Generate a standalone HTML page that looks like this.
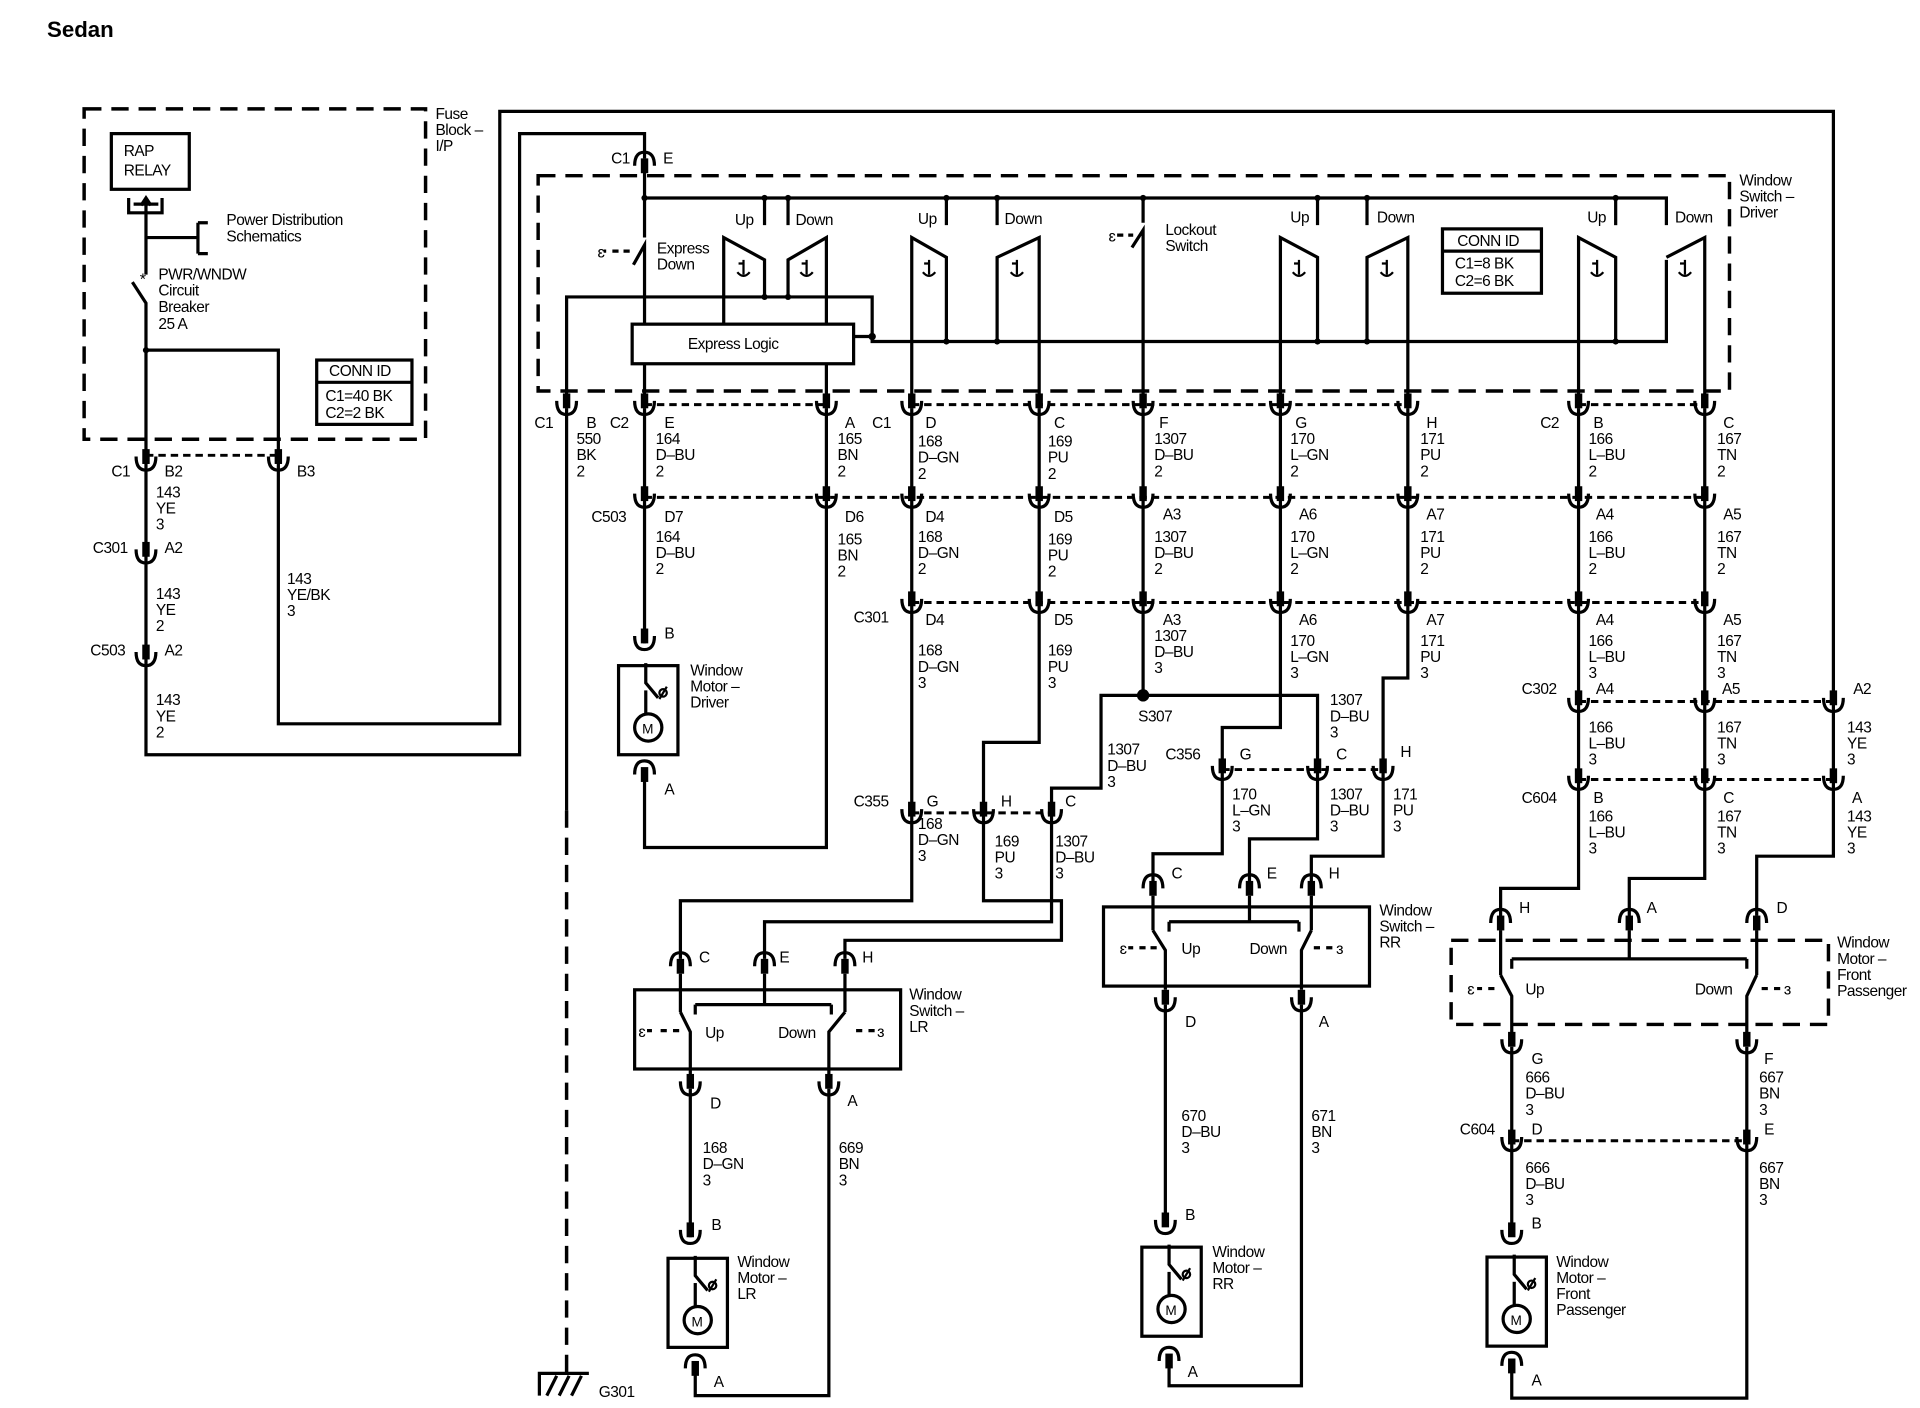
<!DOCTYPE html>
<html><head><meta charset="utf-8"><style>
html,body{margin:0;padding:0;background:#fff}
svg{display:block}
text{font-family:"Liberation Sans",sans-serif;font-size:12.5px;fill:#000;letter-spacing:-0.4px}
.w{stroke:#000;stroke-width:2.6;fill:none}
.d{stroke:#000;stroke-width:2.8;fill:none;stroke-dasharray:14 8}
.o{stroke:#000;stroke-width:2.4;fill:none;stroke-dasharray:6 4}
.t{stroke:#000;stroke-width:1.8;fill:none}
</style></head><body>
<svg width="1920" height="1408" viewBox="0 0 1552 1138" preserveAspectRatio="none" xmlns="http://www.w3.org/2000/svg">
<defs>
<g id="cn"><rect x="-3" y="-12" width="6" height="12" fill="#000"/><path d="M-8,-6 Q-8,5 0,5 Q8,5 8,-6" class="w" stroke-width="2.2"/></g>
<g id="cu"><rect x="-3" y="0" width="6" height="12" fill="#000"/><path d="M-8,6 Q-8,-5 0,-5 Q8,-5 8,6" class="w" stroke-width="2.2"/></g>
<g id="mot"><rect x="-22" y="0" width="48" height="72" class="w"/><circle cx="2" cy="50" r="11" class="w" stroke-width="2"/><text x="-3" y="55" style="font-size:11px">M</text><path d="M0,-2 V14 L10,26" class="w" stroke-width="2"/><circle cx="14" cy="22" r="3" class="t" stroke-width="1.4"/><path d="M11,27 L17,17" class="t" stroke-width="1.2"/><path d="M0,20 V39" class="w" stroke-width="2"/></g>
<g id="gnd"><path d="M0,-4 v12 M0,-1 h-4 M-4,-1 l0,0" class="t" stroke-width="1.4"/><path d="M-5,6 q5,6 10,0" class="t" stroke-width="1.4"/></g>
</defs>

<text x="38" y="30" style="font-size:18px;font-weight:bold;letter-spacing:0">Sedan</text>

<!-- Fuse block -->
<rect x="68" y="88" width="276" height="267" class="d"/>
<text x="352" y="96">Fuse</text><text x="352" y="109">Block –</text><text x="352" y="122">I/P</text>
<rect x="90" y="108" width="63" height="45" class="w"/>
<text x="100" y="126">RAP</text><text x="100" y="142">RELAY</text>
<path d="M104,160 V172 H131 V160 M108,165 H128" class="w" stroke-width="2"/>
<path d="M118,160 V222" class="w"/><path d="M114,166 L118,160 L122,166" class="w" stroke-width="1.6"/>
<path d="M118,192 H160 M160,180 V205 M160,180 H168 M160,205 H168" class="w"/>
<text x="183" y="182">Power Distribution</text><text x="183" y="195">Schematics</text>
<text x="113" y="230" style="font-size:13px">*</text>
<path d="M107,228 L118,245 V375" class="w"/>
<text x="128" y="226">PWR/WNDW</text><text x="128" y="239">Circuit</text><text x="128" y="252">Breaker</text><text x="128" y="266">25 A</text>
<path d="M118,283 H225 V375" class="w"/>
<circle cx="118" cy="283" r="2.5"/>
<rect x="256" y="291" width="77" height="52" class="w"/><path d="M256,309 H333" class="w"/>
<text x="266" y="304">CONN ID</text><text x="263" y="324">C1=40 BK</text><text x="263" y="338">C2=2 BK</text>

<!-- left power column -->
<path d="M118,375 V610 H420 V108 H521 V128" class="w"/>
<path d="M225,375 V585 H404 V90 H1482 V692 H1420 V740" class="w"/>
<path d="M118,368 H225" class="o"/>
<use href="#cn" x="118" y="375"/><use href="#cn" x="225" y="375"/>
<text x="90" y="385">C1</text><text x="133" y="385">B2</text><text x="240" y="385">B3</text>
<text x="126" y="402">143</text><text x="126" y="415">YE</text><text x="126" y="428">3</text>
<use href="#cn" x="118" y="450"/><text x="75" y="447">C301</text><text x="133" y="447">A2</text>
<text x="126" y="484">143</text><text x="126" y="497">YE</text><text x="126" y="510">2</text>
<text x="232" y="472">143</text><text x="232" y="485">YE/BK</text><text x="232" y="498">3</text>
<use href="#cn" x="118" y="533"/><text x="73" y="530">C503</text><text x="133" y="530">A2</text>
<text x="126" y="570">143</text><text x="126" y="583">YE</text><text x="126" y="596">2</text>

<!-- Driver switch -->
<rect x="435" y="142" width="963" height="174" class="d"/>
<text x="1406" y="150">Window</text><text x="1406" y="163">Switch –</text><text x="1406" y="176">Driver</text>
<use href="#cu" x="521" y="128"/><text x="494" y="132">C1</text><text x="536" y="132">E</text>
<path d="M521,128 V192 M512,214 L521,198 V262" class="w"/>
<path d="M490,203 h-2 M495,203 h5 M504,203 h5" class="w" stroke-width="2"/><text x="483" y="208" style="font-size:13px">ɛ</text>
<text x="531" y="205">Express</text><text x="531" y="218">Down</text>
<path d="M521,160 H1347 V182" class="w"/>
<!-- express logic -->
<rect x="511" y="262" width="179" height="32" class="w"/>
<text x="556" y="282">Express Logic</text>
<path d="M458,330 V240 H705 V272 M705,272 H690 M705,272 V276 H1347 V210" class="w"/>
<circle cx="705" cy="272" r="3"/>
<path d="M521,294 V330 M668,294 V330" class="w"/>

<!-- switch pair 1 -->
<path d="M618,160 V182 M637,160 V182" class="w"/>
<path d="M585,262 V192 L618,210 V240 M668,262 V192 L637,210 V240" class="w"/>
<text x="594" y="182">Up</text><text x="643" y="182">Down</text>
<!-- pair 2 -->
<path d="M765,160 V182 M806,160 V182" class="w"/>
<path d="M737,330 V192 L765,208 V276 M840,330 V192 L806,208 V276" class="w"/>
<text x="742" y="181">Up</text><text x="812" y="181">Down</text>
<!-- lockout -->
<path d="M924,160 V180 M915,200 L924,186 V330" class="w"/>
<path d="M903,190 h5 M912,190 h4" class="w" stroke-width="2"/><text x="896" y="195" style="font-size:13px">ɛ</text>
<text x="942" y="190">Lockout</text><text x="942" y="203">Switch</text>
<!-- pair 3 -->
<path d="M1065,160 V182 M1105,160 V182" class="w"/>
<path d="M1035,330 V192 L1065,208 V276 M1138,330 V192 L1105,208 V276" class="w"/>
<text x="1043" y="180">Up</text><text x="1113" y="180">Down</text>
<rect x="1166" y="185" width="80" height="52" class="w"/><path d="M1166,203 H1246" class="w"/>
<text x="1178" y="199">CONN ID</text><text x="1176" y="217">C1=8 BK</text><text x="1176" y="231">C2=6 BK</text>
<!-- pair 4 -->
<path d="M1306,160 V182" class="w"/>
<path d="M1276,330 V192 L1306,208 V276 M1378,330 V192 L1347,208" class="w"/>
<text x="1283" y="180">Up</text><text x="1354" y="180">Down</text>
<!-- grounds inside switches -->
<use href="#gnd" x="601" y="214"/><use href="#gnd" x="652" y="214"/>
<use href="#gnd" x="751" y="214"/><use href="#gnd" x="822" y="214"/>
<use href="#gnd" x="1050" y="214"/><use href="#gnd" x="1121" y="214"/>
<use href="#gnd" x="1291" y="214"/><use href="#gnd" x="1362" y="214"/>
<circle cx="521" cy="160" r="2.5"/><circle cx="618" cy="160" r="2.5"/><circle cx="637" cy="160" r="2.5"/><circle cx="765" cy="160" r="2.5"/><circle cx="806" cy="160" r="2.5"/><circle cx="924" cy="160" r="2.5"/><circle cx="1065" cy="160" r="2.5"/><circle cx="1105" cy="160" r="2.5"/><circle cx="1306" cy="160" r="2.5"/>
<circle cx="618" cy="240" r="2.5"/><circle cx="637" cy="240" r="2.5"/><circle cx="765" cy="276" r="2.5"/><circle cx="806" cy="276" r="2.5"/><circle cx="1065" cy="276" r="2.5"/><circle cx="1105" cy="276" r="2.5"/><circle cx="1306" cy="276" r="2.5"/>

<!-- row 1 connectors y=330 -->
<path d="M521,327 H668 M737,327 H1138 M1276,327 H1378" class="o"/>
<use href="#cn" x="458" y="330"/><use href="#cn" x="521" y="330"/><use href="#cn" x="668" y="330"/><use href="#cn" x="737" y="330"/><use href="#cn" x="840" y="330"/><use href="#cn" x="924" y="330"/><use href="#cn" x="1035" y="330"/><use href="#cn" x="1138" y="330"/><use href="#cn" x="1276" y="330"/><use href="#cn" x="1378" y="330"/>
<text x="432" y="346">C1</text><text x="474" y="346">B</text><text x="466" y="359">550</text><text x="466" y="372">BK</text><text x="466" y="385">2</text>
<text x="493" y="346">C2</text><text x="537" y="346">E</text><text x="530" y="359">164</text><text x="530" y="372">D–BU</text><text x="530" y="385">2</text>
<text x="683" y="346">A</text><text x="677" y="359">165</text><text x="677" y="372">BN</text><text x="677" y="385">2</text>
<text x="705" y="346">C1</text><text x="748" y="346">D</text><text x="742" y="361">168</text><text x="742" y="374">D–GN</text><text x="742" y="387">2</text>
<text x="852" y="346">C</text><text x="847" y="361">169</text><text x="847" y="374">PU</text><text x="847" y="387">2</text>
<text x="937" y="346">F</text><text x="933" y="359">1307</text><text x="933" y="372">D–BU</text><text x="933" y="385">2</text>
<text x="1047" y="346">G</text><text x="1043" y="359">170</text><text x="1043" y="372">L–GN</text><text x="1043" y="385">2</text>
<text x="1153" y="346">H</text><text x="1148" y="359">171</text><text x="1148" y="372">PU</text><text x="1148" y="385">2</text>
<text x="1245" y="346">C2</text><text x="1288" y="346">B</text><text x="1284" y="359">166</text><text x="1284" y="372">L–BU</text><text x="1284" y="385">2</text>
<text x="1393" y="346">C</text><text x="1388" y="359">167</text><text x="1388" y="372">TN</text><text x="1388" y="385">2</text>

<!-- vertical wires -->
<path d="M458,330 V655" class="w"/>
<path d="M458,655 V1110" class="d"/>
<path d="M436,1128 V1110 H476 M442,1128 l8,-16 M452,1128 l8,-16 M462,1128 l8,-16" class="w" stroke-width="2"/>
<text x="484" y="1129">G301</text>
<path d="M521,330 V520" class="w"/>
<path d="M668,330 V685 H521 V625" class="w"/>
<path d="M737,330 V728 H550 V775" class="w"/>
<path d="M840,330 V600 H795 V728 H858 V760 H683 V775" class="w"/>
<path d="M924,330 V562 H890 V637 H850 V745 H618 V775" class="w"/>
<path d="M924,562 H1065 V678 H1010 V718" class="w"/>
<circle cx="924" cy="562" r="5"/>
<text x="920" y="583">S307</text>
<path d="M1035,330 V588 H988 V690 H932 V718" class="w"/>
<path d="M1138,330 V548 H1118 V692 H1060 V718" class="w"/>
<path d="M1276,330 V718 H1213 V745" class="w"/>
<path d="M1378,330 V710 H1317 V745" class="w"/>

<!-- row 2 C503 y=405 -->
<path d="M521,402 H1378" class="o"/>
<use href="#cn" x="521" y="405"/><use href="#cn" x="668" y="405"/><use href="#cn" x="737" y="405"/><use href="#cn" x="840" y="405"/><use href="#cn" x="924" y="405"/><use href="#cn" x="1035" y="405"/><use href="#cn" x="1138" y="405"/><use href="#cn" x="1276" y="405"/><use href="#cn" x="1378" y="405"/>
<text x="478" y="422">C503</text>
<text x="537" y="422">D7</text><text x="530" y="438">164</text><text x="530" y="451">D–BU</text><text x="530" y="464">2</text>
<text x="683" y="422">D6</text><text x="677" y="440">165</text><text x="677" y="453">BN</text><text x="677" y="466">2</text>
<text x="748" y="422">D4</text><text x="742" y="438">168</text><text x="742" y="451">D–GN</text><text x="742" y="464">2</text>
<text x="852" y="422">D5</text><text x="847" y="440">169</text><text x="847" y="453">PU</text><text x="847" y="466">2</text>
<text x="940" y="420">A3</text><text x="933" y="438">1307</text><text x="933" y="451">D–BU</text><text x="933" y="464">2</text>
<text x="1050" y="420">A6</text><text x="1043" y="438">170</text><text x="1043" y="451">L–GN</text><text x="1043" y="464">2</text>
<text x="1153" y="420">A7</text><text x="1148" y="438">171</text><text x="1148" y="451">PU</text><text x="1148" y="464">2</text>
<text x="1290" y="420">A4</text><text x="1284" y="438">166</text><text x="1284" y="451">L–BU</text><text x="1284" y="464">2</text>
<text x="1393" y="420">A5</text><text x="1388" y="438">167</text><text x="1388" y="451">TN</text><text x="1388" y="464">2</text>

<!-- row 3 C301 y=490 -->
<path d="M737,487 H1378" class="o"/>
<use href="#cn" x="737" y="490"/><use href="#cn" x="840" y="490"/><use href="#cn" x="924" y="490"/><use href="#cn" x="1035" y="490"/><use href="#cn" x="1138" y="490"/><use href="#cn" x="1276" y="490"/><use href="#cn" x="1378" y="490"/>
<text x="690" y="503">C301</text>
<text x="748" y="505">D4</text><text x="742" y="530">168</text><text x="742" y="543">D–GN</text><text x="742" y="556">3</text>
<text x="852" y="505">D5</text><text x="847" y="530">169</text><text x="847" y="543">PU</text><text x="847" y="556">3</text>
<text x="940" y="505">A3</text><text x="933" y="518">1307</text><text x="933" y="531">D–BU</text><text x="933" y="544">3</text>
<text x="1050" y="505">A6</text><text x="1043" y="522">170</text><text x="1043" y="535">L–GN</text><text x="1043" y="548">3</text>
<text x="1153" y="505">A7</text><text x="1148" y="522">171</text><text x="1148" y="535">PU</text><text x="1148" y="548">3</text>
<text x="1290" y="505">A4</text><text x="1284" y="522">166</text><text x="1284" y="535">L–BU</text><text x="1284" y="548">3</text>
<text x="1393" y="505">A5</text><text x="1388" y="522">167</text><text x="1388" y="535">TN</text><text x="1388" y="548">3</text>

<!-- Driver motor -->
<use href="#cn" x="521" y="520"/><text x="537" y="516">B</text>
<use href="#mot" x="522" y="538"/>
<use href="#cu" x="521" y="620"/><text x="537" y="642">A</text>
<text x="558" y="546">Window</text><text x="558" y="559">Motor –</text><text x="558" y="572">Driver</text>

<!-- 1307 / S307 labels -->
<text x="895" y="610">1307</text><text x="895" y="623">D–BU</text><text x="895" y="636">3</text>
<text x="1075" y="570">1307</text><text x="1075" y="583">D–BU</text><text x="1075" y="596">3</text>

<!-- C355 -->
<path d="M737,657 H850" class="o"/>
<use href="#cn" x="737" y="660"/><use href="#cn" x="795" y="660"/><use href="#cn" x="850" y="660"/>
<text x="690" y="652">C355</text><text x="749" y="652">G</text><text x="809" y="652">H</text><text x="861" y="652">C</text>
<text x="742" y="670">168</text><text x="742" y="683">D–GN</text><text x="742" y="696">3</text>
<text x="804" y="684">169</text><text x="804" y="697">PU</text><text x="804" y="710">3</text>
<text x="853" y="684">1307</text><text x="853" y="697">D–BU</text><text x="853" y="710">3</text>

<!-- C356 -->
<path d="M988,622 H1118" class="o"/>
<use href="#cn" x="988" y="625"/><use href="#cn" x="1065" y="625"/><use href="#cn" x="1118" y="625"/>
<text x="942" y="614">C356</text><text x="1002" y="614">G</text><text x="1080" y="614">C</text><text x="1132" y="612">H</text>
<text x="996" y="646">170</text><text x="996" y="659">L–GN</text><text x="996" y="672">3</text>
<text x="1075" y="646">1307</text><text x="1075" y="659">D–BU</text><text x="1075" y="672">3</text>
<text x="1126" y="646">171</text><text x="1126" y="659">PU</text><text x="1126" y="672">3</text>

<!-- Window Switch LR -->
<use href="#cu" x="550" y="775"/><use href="#cu" x="618" y="775"/><use href="#cu" x="683" y="775"/>
<text x="565" y="778">C</text><text x="630" y="778">E</text><text x="697" y="778">H</text>
<rect x="513" y="800" width="215" height="64" class="w"/>
<text x="735" y="808">Window</text><text x="735" y="821">Switch –</text><text x="735" y="834">LR</text>
<path d="M550,787 V818 M550,818 L558,834 V868 M683,787 V818 M683,818 L670,834 V868" class="w"/>
<path d="M618,787 V812 M562,812 H672 M562,812 V820 M672,812 V820" class="w" stroke-width="2"/>
<path d="M523,833 h4 M534,833 h5 M544,833 h5 M692,833 h5 M702,833 h5" class="w" stroke-width="2"/>
<text x="516" y="838" style="font-size:13px">ɛ</text><text x="709" y="838" style="font-size:13px">ɜ</text>
<text x="570" y="839">Up</text><text x="629" y="839">Down</text>
<use href="#cn" x="558" y="880"/><use href="#cn" x="670" y="880"/>
<text x="574" y="896">D</text><text x="685" y="894">A</text>
<path d="M558,880 V1000 M670,880 V1128 H562 V1105" class="w"/>
<text x="568" y="932">168</text><text x="568" y="945">D–GN</text><text x="568" y="958">3</text>
<text x="678" y="932">669</text><text x="678" y="945">BN</text><text x="678" y="958">3</text>
<use href="#cn" x="558" y="1000"/><text x="575" y="994">B</text>
<use href="#mot" x="562" y="1017"/>
<use href="#cu" x="562" y="1100"/><text x="577" y="1121">A</text>
<text x="596" y="1024">Window</text><text x="596" y="1037">Motor –</text><text x="596" y="1050">LR</text>

<!-- Window Switch RR -->
<use href="#cu" x="932" y="712"/><use href="#cu" x="1010" y="712"/><use href="#cu" x="1060" y="712"/>
<text x="947" y="710">C</text><text x="1024" y="710">E</text><text x="1074" y="710">H</text>
<rect x="892" y="733" width="215" height="64" class="w"/>
<text x="1115" y="740">Window</text><text x="1115" y="753">Switch –</text><text x="1115" y="766">RR</text>
<path d="M932,724 V752 M932,752 L942,768 V800 M1060,724 V752 M1060,752 L1052,768 V800" class="w"/>
<path d="M1010,724 V745 M945,745 H1050 M945,745 V753 M1050,745 V753" class="w" stroke-width="2"/>
<path d="M912,766 h4 M921,766 h5 M930,766 h5 M1062,766 h5 M1072,766 h5" class="w" stroke-width="2"/>
<text x="905" y="771" style="font-size:13px">ɛ</text><text x="1080" y="771" style="font-size:13px">ɜ</text>
<text x="955" y="771">Up</text><text x="1010" y="771">Down</text>
<use href="#cn" x="942" y="812"/><use href="#cn" x="1052" y="812"/>
<text x="958" y="830">D</text><text x="1066" y="830">A</text>
<path d="M942,812 V990 M1052,812 V1120 H945 V1105" class="w"/>
<text x="955" y="906">670</text><text x="955" y="919">D–BU</text><text x="955" y="932">3</text>
<text x="1060" y="906">671</text><text x="1060" y="919">BN</text><text x="1060" y="932">3</text>
<use href="#cn" x="942" y="992"/><text x="958" y="986">B</text>
<use href="#mot" x="945" y="1008"/>
<use href="#cu" x="945" y="1094"/><text x="960" y="1113">A</text>
<text x="980" y="1016">Window</text><text x="980" y="1029">Motor –</text><text x="980" y="1042">RR</text>

<!-- Right column C302 / C604 -->
<path d="M1276,567 H1482" class="o"/>
<use href="#cn" x="1276" y="570"/><use href="#cn" x="1378" y="570"/><use href="#cn" x="1482" y="570"/>
<text x="1230" y="561">C302</text><text x="1290" y="561">A4</text><text x="1392" y="561">A5</text><text x="1498" y="561">A2</text>
<text x="1284" y="592">166</text><text x="1284" y="605">L–BU</text><text x="1284" y="618">3</text>
<text x="1388" y="592">167</text><text x="1388" y="605">TN</text><text x="1388" y="618">3</text>
<text x="1493" y="592">143</text><text x="1493" y="605">YE</text><text x="1493" y="618">3</text>
<path d="M1276,630 H1482" class="o"/>
<use href="#cn" x="1276" y="633"/><use href="#cn" x="1378" y="633"/><use href="#cn" x="1482" y="633"/>
<text x="1230" y="649">C604</text><text x="1288" y="649">B</text><text x="1393" y="649">C</text><text x="1497" y="649">A</text>
<text x="1284" y="664">166</text><text x="1284" y="677">L–BU</text><text x="1284" y="690">3</text>
<text x="1388" y="664">167</text><text x="1388" y="677">TN</text><text x="1388" y="690">3</text>
<text x="1493" y="664">143</text><text x="1493" y="677">YE</text><text x="1493" y="690">3</text>

<!-- Window Motor Front Passenger (switch) -->
<use href="#cu" x="1213" y="740"/><use href="#cu" x="1317" y="740"/><use href="#cu" x="1420" y="740"/>
<text x="1228" y="738">H</text><text x="1331" y="738">A</text><text x="1436" y="738">D</text>
<rect x="1173" y="760" width="305" height="68" class="d"/>
<text x="1485" y="766">Window</text><text x="1485" y="779">Motor –</text><text x="1485" y="792">Front</text><text x="1485" y="805">Passenger</text>
<path d="M1213,752 V788 M1213,788 L1222,805 V845 M1420,752 V788 M1420,788 L1412,805 V845" class="w"/>
<path d="M1317,752 V775 M1222,775 H1412 M1222,775 V783 M1412,775 V783" class="w" stroke-width="2"/>
<path d="M1194,799 h4 M1203,799 h5 M1424,799 h5 M1434,799 h5" class="w" stroke-width="2"/>
<text x="1186" y="804" style="font-size:13px">ɛ</text><text x="1442" y="804" style="font-size:13px">ɜ</text>
<text x="1233" y="804">Up</text><text x="1370" y="804">Down</text>
<use href="#cn" x="1222" y="846"/><use href="#cn" x="1412" y="846"/>
<text x="1238" y="860">G</text><text x="1426" y="860">F</text>
<text x="1233" y="875">666</text><text x="1233" y="888">D–BU</text><text x="1233" y="901">3</text>
<text x="1422" y="875">667</text><text x="1422" y="888">BN</text><text x="1422" y="901">3</text>
<path d="M1222,846 V998 M1412,846 V1130 H1222 V1105" class="w"/>
<path d="M1222,922 H1412" class="o"/>
<use href="#cn" x="1222" y="925"/><use href="#cn" x="1412" y="925"/>
<text x="1180" y="917">C604</text><text x="1238" y="917">D</text><text x="1426" y="917">E</text>
<text x="1233" y="948">666</text><text x="1233" y="961">D–BU</text><text x="1233" y="974">3</text>
<text x="1422" y="948">667</text><text x="1422" y="961">BN</text><text x="1422" y="974">3</text>
<use href="#cn" x="1222" y="1000"/><text x="1238" y="993">B</text>
<use href="#mot" x="1224" y="1016"/>
<use href="#cu" x="1222" y="1098"/><text x="1238" y="1120">A</text>
<text x="1258" y="1024">Window</text><text x="1258" y="1037">Motor –</text><text x="1258" y="1050">Front</text><text x="1258" y="1063">Passenger</text>
</svg>
</body></html>
